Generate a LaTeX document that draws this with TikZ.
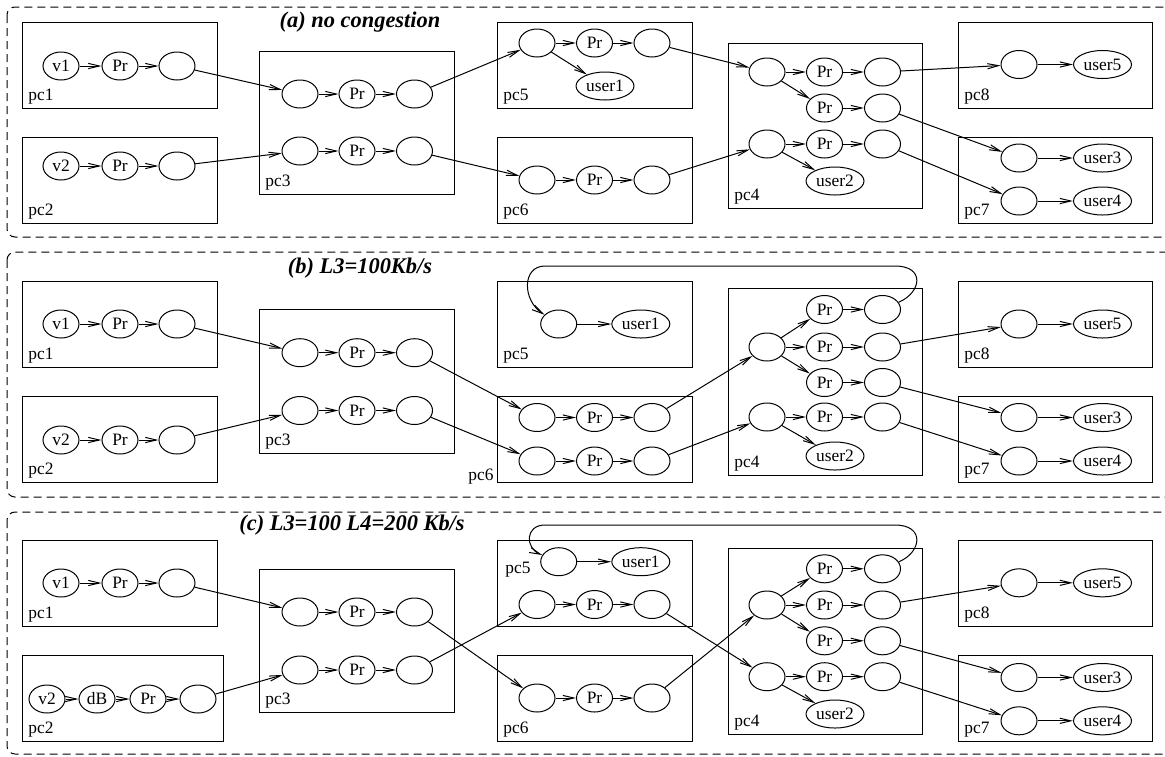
\documentclass[tikz,border=0pt]{standalone}
\usepackage{fontspec}
\setmainfont{Liberation Serif}
\usetikzlibrary{shapes.geometric,arrows.meta}
\tikzset{
 el/.style={ellipse,draw,line width=0.5pt,minimum width=18pt,minimum height=14pt,inner sep=0pt,font=\fontsize{8.7}{10}\selectfont},
 us/.style={el,minimum width=29pt},
 box/.style={draw,line width=0.5pt,rectangle,inner sep=0pt,outer sep=0pt},
 lab/.style={inner sep=0pt,font=\fontsize{8.7}{10}\selectfont},
 arr/.style={line width=0.5pt,-{Straight Barb[length=5.5pt,width=2.6pt]}},
 panel/.style={draw,dash pattern=on 4pt off 2.5pt,line width=0.5pt,rounded corners=4pt},
 ttl/.style={font=\fontsize{11.2}{13}\selectfont\bfseries\itshape,inner sep=0pt}
}
% #1 name, #2 x0, #3 y0, #4 x1, #5 y1
\newcommand\pcbox[5]{%
 \node[box,anchor=north west,minimum width={(#4-#2)*0.5pt},minimum height={(#5-#3)*0.5pt}] (#1) at (#2,#3) {};}
% #1 name, #2 x0, #3 y1, #4 text
\newcommand\pclab[4]{\node[lab,anchor=south west] (#1) at (#2+6,#3-3) {#4};}
\begin{document}
\begin{tikzpicture}[x=0.5pt,y=-0.5pt]
\useasboundingbox (0,0) rectangle (1165,756);
% ================= panel (a) =================
\draw[panel] (7,7) rectangle (1190,237);
\node[ttl] (ta) at (360,22) {(a) no congestion};
\pcbox{apc1}{22}{22}{217}{108}\pclab{apc1l}{22}{108}{pc1}
\pcbox{apc2}{22}{137}{217}{223}\pclab{apc2l}{22}{223}{pc2}
\pcbox{apc3}{259}{51}{454}{194}\pclab{apc3l}{259}{194}{pc3}
\pcbox{apc5}{497}{22}{692}{108}\pclab{apc5l}{497}{108}{pc5}
\pcbox{apc6}{497}{137}{692}{223}\pclab{apc6l}{497}{223}{pc6}
\pcbox{apc4}{728}{43}{922}{208}\pclab{apc4l}{728}{208}{pc4}
\pcbox{apc8}{958}{22}{1152}{108}\pclab{apc8l}{958}{108}{pc8}
\pcbox{apc7}{958}{137}{1152}{223}\pclab{apc7l}{958}{223}{pc7}
\node[el] (a1v) at (61,66) {v1};
\node[el] (a1p) at (120,66) {Pr};
\node[el] (a1o) at (177,66) {};
\node[el] (a2v) at (61,166) {v2};
\node[el] (a2p) at (120,166) {Pr};
\node[el] (a2o) at (177,166) {};
\node[el] (a3a) at (300,94) {};
\node[el] (a3b) at (357,94) {Pr};
\node[el] (a3c) at (414.5,94) {};
\node[el] (a3d) at (300,151) {};
\node[el] (a3e) at (357,151) {Pr};
\node[el] (a3f) at (414.5,151) {};
\node[el] (a5a) at (537,43) {};
\node[el] (a5b) at (594.5,43) {Pr};
\node[el] (a5c) at (652,43) {};
\node[us] (a5u) at (605,86) {user1};
\node[el] (a6a) at (537,180) {};
\node[el] (a6b) at (594.5,180) {Pr};
\node[el] (a6c) at (652,180) {};
\node[el] (a4a) at (767,72) {};
\node[el] (a4b) at (824.5,72) {Pr};
\node[el] (a4c) at (882.5,72) {};
\node[el] (a4d) at (824.5,108) {Pr};
\node[el] (a4e) at (882.5,108) {};
\node[el] (a4f) at (767,144) {};
\node[el] (a4g) at (824.5,144) {Pr};
\node[el] (a4h) at (882.5,144) {};
\node[us] (a4u) at (835,181) {user2};
\node[el] (a8a) at (1019,64.5) {};
\node[us] (a8u) at (1102.5,64.5) {user5};
\node[el] (a7a) at (1019,158) {};
\node[us] (a7u) at (1102.5,158) {user3};
\node[el] (a7b) at (1019,201) {};
\node[us] (a7v) at (1102.5,201) {user4};
\draw[arr] (a1v)--(a1p); \draw[arr] (a1p)--(a1o);
\draw[arr] (a2v)--(a2p); \draw[arr] (a2p)--(a2o);
\draw[arr] (a1o)--(a3a); \draw[arr] (a2o)--(a3d);
\draw[arr] (a3a)--(a3b); \draw[arr] (a3b)--(a3c);
\draw[arr] (a3d)--(a3e); \draw[arr] (a3e)--(a3f);
\draw[arr] (a3c)--(a5a); \draw[arr] (a3f)--(a6a);
\draw[arr] (a5a)--(a5b); \draw[arr] (a5b)--(a5c); \draw[arr] (a5a)--(a5u);
\draw[arr] (a6a)--(a6b); \draw[arr] (a6b)--(a6c);
\draw[arr] (a5c)--(a4a); \draw[arr] (a6c)--(a4f);
\draw[arr] (a4a)--(a4b); \draw[arr] (a4b)--(a4c);
\draw[arr] (a4a)--(a4d); \draw[arr] (a4d)--(a4e);
\draw[arr] (a4f)--(a4g); \draw[arr] (a4g)--(a4h); \draw[arr] (a4f)--(a4u);
\draw[arr] (a4c)--(a8a); \draw[arr] (a4e)--(a7a); \draw[arr] (a4h)--(a7b);
\draw[arr] (a8a)--(a8u); \draw[arr] (a7a)--(a7u); \draw[arr] (a7b)--(a7v);
% ================= panel (b) =================
\draw[panel] (7,252) rectangle (1190,497);
\node[ttl] (tb) at (360,268) {(b) L3=100Kb/s};
\pcbox{bpc1}{22}{281}{217}{367}\pclab{bpc1l}{22}{367}{pc1}
\pcbox{bpc2}{22}{396}{217}{482}\pclab{bpc2l}{22}{482}{pc2}
\pcbox{bpc3}{259}{309}{454}{453}\pclab{bpc3l}{259}{453}{pc3}
\pcbox{bpc5}{497}{281}{692}{367}\pclab{bpc5l}{497}{367}{pc5}
\pcbox{bpc6}{497}{396}{692}{482}
\node[lab,anchor=south east] (bpc6l) at (494,485) {pc6};
\pcbox{bpc4}{728}{288}{922}{475}\pclab{bpc4l}{728}{475}{pc4}
\pcbox{bpc8}{958}{281}{1152}{367}\pclab{bpc8l}{958}{367}{pc8}
\pcbox{bpc7}{958}{396}{1152}{482}\pclab{bpc7l}{958}{482}{pc7}
\node[el] (b1v) at (61,324) {v1};
\node[el] (b1p) at (120,324) {Pr};
\node[el] (b1o) at (177,324) {};
\node[el] (b2v) at (61,440) {v2};
\node[el] (b2p) at (120,440) {Pr};
\node[el] (b2o) at (177,440) {};
\node[el] (b3a) at (300,352.7) {};
\node[el] (b3b) at (357,352.7) {Pr};
\node[el] (b3c) at (414.5,352.7) {};
\node[el] (b3d) at (300,410.5) {};
\node[el] (b3e) at (357,410.5) {Pr};
\node[el] (b3f) at (414.5,410.5) {};
\node[el] (b5a) at (558.7,324) {};
\node[us] (b5u) at (640.8,324) {user1};
\node[el] (b6a) at (537,417.5) {};
\node[el] (b6b) at (594.5,417.5) {Pr};
\node[el] (b6c) at (652,417.5) {};
\node[el] (b6d) at (537,461) {};
\node[el] (b6e) at (594.5,461) {Pr};
\node[el] (b6f) at (652,461) {};
\node[el] (b4a) at (767,347) {};
\node[el] (b4f) at (767,417) {};
\node[el] (b4p1) at (824.5,309.5) {Pr};
\node[el] (b4c1) at (882.5,309.5) {};
\node[el] (b4p2) at (824.5,347) {Pr};
\node[el] (b4c2) at (882.5,347) {};
\node[el] (b4p3) at (824.5,382.5) {Pr};
\node[el] (b4c3) at (882.5,382.5) {};
\node[el] (b4p4) at (824.5,417) {Pr};
\node[el] (b4c4) at (882.5,417) {};
\node[us] (b4u) at (835,456) {user2};
\node[el] (b8a) at (1019,324) {};
\node[us] (b8u) at (1102.5,324) {user5};
\node[el] (b7a) at (1019,417.5) {};
\node[us] (b7u) at (1102.5,417.5) {user3};
\node[el] (b7b) at (1019,461) {};
\node[us] (b7v) at (1102.5,461) {user4};
\draw[arr] (b1v)--(b1p); \draw[arr] (b1p)--(b1o);
\draw[arr] (b2v)--(b2p); \draw[arr] (b2p)--(b2o);
\draw[arr] (b1o)--(b3a); \draw[arr] (b2o)--(b3d);
\draw[arr] (b3a)--(b3b); \draw[arr] (b3b)--(b3c);
\draw[arr] (b3d)--(b3e); \draw[arr] (b3e)--(b3f);
\draw[arr] (b3c)--(b6a); \draw[arr] (b3f)--(b6d);
\draw[arr] (b6a)--(b6b); \draw[arr] (b6b)--(b6c);
\draw[arr] (b6d)--(b6e); \draw[arr] (b6e)--(b6f);
\draw[arr] (b6c)--(b4a); \draw[arr] (b6f)--(b4f);
\draw[arr] (b4a)--(b4p1); \draw[arr] (b4a)--(b4p2); \draw[arr] (b4a)--(b4p3);
\draw[arr] (b4f)--(b4p4); \draw[arr] (b4f)--(b4u);
\draw[arr] (b4p1)--(b4c1); \draw[arr] (b4p2)--(b4c2);
\draw[arr] (b4p3)--(b4c3); \draw[arr] (b4p4)--(b4c4);
\draw[arr] (b4c1) .. controls (922,292) and (925,266) .. (895,266) -- (545,266) .. controls (522,266) and (522,300) .. (b5a);
\draw[arr] (b5a)--(b5u);
\draw[arr] (b4c2)--(b8a); \draw[arr] (b4c3)--(b7a); \draw[arr] (b4c4)--(b7b);
\draw[arr] (b8a)--(b8u); \draw[arr] (b7a)--(b7u); \draw[arr] (b7b)--(b7v);
% ================= panel (c) =================
\draw[panel] (7,512) rectangle (1190,754);
\node[ttl] (tc) at (352,525) {(c) L3=100 L4=200 Kb/s};
\pcbox{cpc1}{22}{540}{217}{626}\pclab{cpc1l}{22}{626}{pc1}
\pcbox{cpc2}{22}{655}{223}{741}\pclab{cpc2l}{22}{741}{pc2}
\pcbox{cpc3}{259}{569}{454}{712}\pclab{cpc3l}{259}{712}{pc3}
\pcbox{cpc5}{497}{540}{692}{626}
\node[lab,anchor=south west] (cpc5l) at (505,578) {pc5};
\pcbox{cpc6}{497}{655}{692}{741}\pclab{cpc6l}{497}{741}{pc6}
\pcbox{cpc4}{728}{548}{922}{734}\pclab{cpc4l}{728}{734}{pc4}
\pcbox{cpc8}{958}{540}{1152}{626}\pclab{cpc8l}{958}{626}{pc8}
\pcbox{cpc7}{958}{655}{1152}{741}\pclab{cpc7l}{958}{741}{pc7}
\node[el] (c1v) at (61,583) {v1};
\node[el] (c1p) at (120,583) {Pr};
\node[el] (c1o) at (177,583) {};
\node[el] (c2v) at (47,699) {v2};
\node[el] (c2d) at (97,699) {dB};
\node[el] (c2p) at (148,699) {Pr};
\node[el] (c2o) at (198,699) {};
\node[el] (c3a) at (300,612) {};
\node[el] (c3b) at (357,612) {Pr};
\node[el] (c3c) at (414.5,612) {};
\node[el] (c3d) at (300,670) {};
\node[el] (c3e) at (357,670) {Pr};
\node[el] (c3f) at (414.5,670) {};
\node[el] (c5a) at (558.7,561.7) {};
\node[us] (c5u) at (640.8,561.7) {user1};
\node[el] (c5b) at (537,604.5) {};
\node[el] (c5p) at (594.5,604.5) {Pr};
\node[el] (c5c) at (652,604.5) {};
\node[el] (c6a) at (537,698) {};
\node[el] (c6b) at (594.5,698) {Pr};
\node[el] (c6c) at (652,698) {};
\node[el] (c4a) at (767,605) {};
\node[el] (c4f) at (767,676.7) {};
\node[el] (c4p1) at (824.5,568.8) {Pr};
\node[el] (c4c1) at (882.5,568.8) {};
\node[el] (c4p2) at (824.5,605) {Pr};
\node[el] (c4c2) at (882.5,605) {};
\node[el] (c4p3) at (824.5,640.8) {Pr};
\node[el] (c4c3) at (882.5,640.8) {};
\node[el] (c4p4) at (824.5,676.7) {Pr};
\node[el] (c4c4) at (882.5,676.7) {};
\node[us] (c4u) at (835,714) {user2};
\node[el] (c8a) at (1019,582.8) {};
\node[us] (c8u) at (1102.5,582.8) {user5};
\node[el] (c7a) at (1019,677.5) {};
\node[us] (c7u) at (1102.5,677.5) {user3};
\node[el] (c7b) at (1019,720.8) {};
\node[us] (c7v) at (1102.5,720.8) {user4};
\draw[arr] (c1v)--(c1p); \draw[arr] (c1p)--(c1o);
\draw[arr] (c2v)--(c2d); \draw[arr] (c2d)--(c2p); \draw[arr] (c2p)--(c2o);
\draw[arr] (c1o)--(c3a); \draw[arr] (c2o)--(c3d);
\draw[arr] (c3a)--(c3b); \draw[arr] (c3b)--(c3c);
\draw[arr] (c3d)--(c3e); \draw[arr] (c3e)--(c3f);
\draw[arr] (c3c)--(c6a); \draw[arr] (c3f)--(c5b);
\draw[arr] (c5a)--(c5u);
\draw[arr] (c5b)--(c5p); \draw[arr] (c5p)--(c5c);
\draw[arr] (c6a)--(c6b); \draw[arr] (c6b)--(c6c);
\draw[arr] (c5c)--(c4f); \draw[arr] (c6c)--(c4a);
\draw[arr] (c4a)--(c4p1); \draw[arr] (c4a)--(c4p2); \draw[arr] (c4a)--(c4p3);
\draw[arr] (c4f)--(c4p4); \draw[arr] (c4f)--(c4u);
\draw[arr] (c4p1)--(c4c1); \draw[arr] (c4p2)--(c4c2);
\draw[arr] (c4p3)--(c4c3); \draw[arr] (c4p4)--(c4c4);
\draw[arr] (c4c1) .. controls (922,552) and (925,525) .. (895,525) -- (545,525) .. controls (525,525) and (525,548) .. (c5a);
\draw[arr] (c4c2)--(c8a); \draw[arr] (c4c3)--(c7a); \draw[arr] (c4c4)--(c7b);
\draw[arr] (c8a)--(c8u); \draw[arr] (c7a)--(c7u); \draw[arr] (c7b)--(c7v);
\end{tikzpicture}
\end{document}
